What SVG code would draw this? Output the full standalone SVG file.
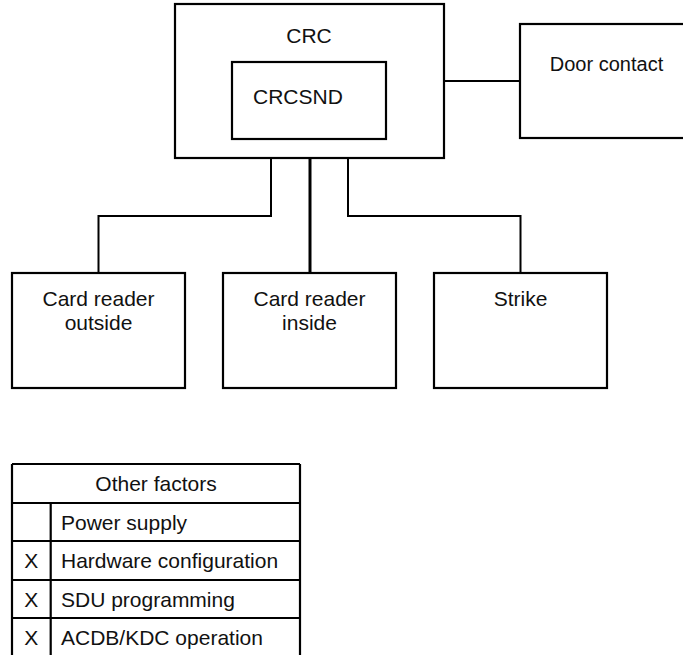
<svg xmlns="http://www.w3.org/2000/svg" width="683" height="655" viewBox="0 0 683 655">
<style>
.box{fill:#fff;stroke:#000;stroke-width:2.2}
.t{font-family:"Liberation Sans",Arial,sans-serif;font-size:21px;fill:#111}
.c{text-anchor:middle}
.ln{fill:none;stroke:#000;stroke-width:2}
.tbl{fill:none;stroke:#000;stroke-width:2.2}
</style>
<rect width="683" height="655" fill="#fff"/>
<g id="connectors">
<path class="ln" d="M444 81H520"/>
<path class="ln" d="M271 158V216H98.5V273"/>
<path class="ln" d="M310 158V273" style="stroke-width:3"/>
<path class="ln" d="M348 158V216H520.5V273"/>
</g>
<g id="crc">
<rect class="box" x="175" y="4" width="269" height="154"/>
<text class="t c" x="309" y="43">CRC</text>
</g>
<g id="crcsnd">
<rect class="box" x="232" y="62" width="154" height="77"/>
<text class="t" x="253" y="104">CRCSND</text>
</g>
<g id="door-contact">
<rect class="box" x="520" y="24" width="173" height="114"/>
<text class="t c" x="606.5" y="71" style="font-size:20px">Door contact</text>
</g>
<g id="card-reader-outside">
<rect class="box" x="12" y="273" width="173" height="115"/>
<text class="t c" x="98.5" y="306">Card reader</text>
<text class="t c" x="98.5" y="330">outside</text>
</g>
<g id="card-reader-inside">
<rect class="box" x="223" y="273" width="173" height="115"/>
<text class="t c" x="309.5" y="306">Card reader</text>
<text class="t c" x="309.5" y="330">inside</text>
</g>
<g id="strike">
<rect class="box" x="434" y="273" width="173" height="115"/>
<text class="t c" x="520.5" y="306">Strike</text>
</g>
<g id="other-factors">
<path class="tbl" d="M12 464H300M12 464V660M300 464V660M12 503H300M12 541H300M12 580H300M12 618H300M50.7 503V660"/>
<text class="t c" x="156" y="491">Other factors</text>
<text class="t" x="61" y="529.5">Power supply</text>
<text class="t c" x="31.3" y="568">X</text>
<text class="t" x="61" y="568">Hardware configuration</text>
<text class="t c" x="31.3" y="606.5">X</text>
<text class="t" x="61" y="606.5">SDU programming</text>
<text class="t c" x="31.3" y="645">X</text>
<text class="t" x="61" y="645">ACDB/KDC operation</text>
</g>
</svg>
